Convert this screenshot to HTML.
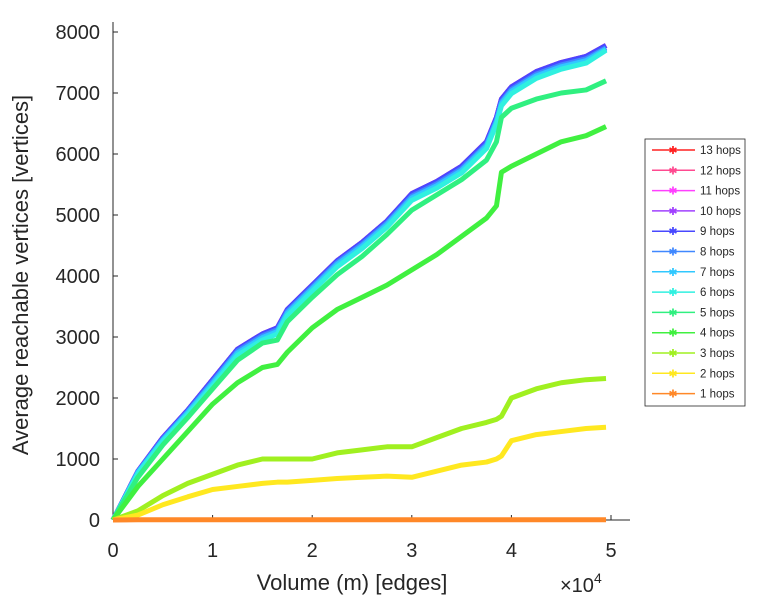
<!DOCTYPE html>
<html><head><meta charset="utf-8"><style>
body{margin:0;background:#fff;font-family:"Liberation Sans",sans-serif}
svg text{font-family:"Liberation Sans",sans-serif;fill:#262626}
</style></head><body>
<svg id="chart" width="768" height="600">
<g id="axes"></g><g id="series"></g><g id="legend"></g>
<text x="28" y="275" font-size="22" text-anchor="middle" transform="rotate(-90 28 275)">Average reachable vertices [vertices]</text>
<text x="352" y="590" font-size="22" text-anchor="middle">Volume (m) [edges]</text>
<text x="560" y="592" font-size="20">×10<tspan dy="-9" font-size="14">4</tspan></text>
</svg>
<script>
const xs=[0,0.25,0.5,0.75,1,1.25,1.5,1.65,1.75,2,2.25,2.5,2.75,3,3.25,3.5,3.75,3.85,3.9,4,4.25,4.5,4.75,4.95];
const h9=[0,800,1350,1800,2300,2800,3050,3150,3450,3850,4250,4550,4900,5350,5550,5800,6200,6600,6900,7100,7350,7500,7600,7780];
const h8=[0,790,1330,1780,2270,2770,3020,3120,3420,3820,4220,4520,4870,5310,5510,5760,6160,6560,6860,7060,7310,7460,7560,7740];
const h7=[0,780,1310,1760,2240,2740,2990,3090,3390,3790,4190,4490,4840,5280,5480,5730,6130,6530,6830,7030,7280,7430,7530,7720];
const h6=[0,760,1290,1730,2200,2700,2950,3050,3350,3750,4150,4450,4800,5240,5440,5690,6090,6490,6790,6990,7240,7390,7490,7700];
const h5=[0,700,1230,1680,2150,2620,2900,2950,3250,3650,4020,4320,4680,5080,5330,5580,5900,6200,6600,6750,6900,7000,7050,7200];
const h4=[0,550,1000,1450,1900,2250,2500,2550,2750,3150,3450,3650,3850,4100,4350,4650,4950,5150,5700,5800,6000,6200,6300,6450];
const h3=[0,150,400,600,750,900,1000,1000,1000,1000,1100,1150,1200,1200,1350,1500,1600,1650,1700,2000,2150,2250,2300,2320];
const h2=[0,80,250,380,500,550,600,620,620,650,680,700,720,700,800,900,950,1000,1050,1300,1400,1450,1500,1520];
const h1=[0,5,5,5,5,5,5,5,5,5,5,5,5,5,5,5,5,5,5,5,5,5,5,5];
const labels=["13 hops","12 hops","11 hops","10 hops","9 hops","8 hops","7 hops","6 hops","5 hops","4 hops","3 hops","2 hops","1 hops"];
const colors=["#ff2020","#ff4a90","#ff40ff","#a040ff","#4848ff","#4088ff","#30c8ff","#30f0e0","#30f080","#40f040","#a0f020","#ffe820","#ff8828"];
const seriesData=[h9,h9,h9,h9,h9,h8,h7,h6,h5,h4,h3,h2,h1];
const xTicks=[0,1,2,3,4,5];
const yTicks=[0,1000,2000,3000,4000,5000,6000,7000,8000];
const X=v=>113+v*99.6, Y=v=>520-v*0.061;
const NS="http://www.w3.org/2000/svg";
function mk(t,a,p){const e=document.createElementNS(NS,t);for(const k in a)e.setAttribute(k,a[k]);p.appendChild(e);return e;}
const ax=document.getElementById('axes');
let l=mk('line',{x1:113,y1:22,x2:113,y2:520,stroke:'#262626'},ax);


l=mk('line',{x1:113,y1:520,x2:630,y2:520,stroke:'#262626'},ax);


xTicks.forEach(t=>{mk('line',{x1:X(t),y1:520,x2:X(t),y2:515,stroke:'#262626'},ax);
const e=mk('text',{x:X(t),y:557,'font-size':20,'text-anchor':'middle'},ax);e.textContent=t;

});
yTicks.forEach(t=>{mk('line',{x1:113,y1:Y(t),x2:118,y2:Y(t),stroke:'#262626'},ax);
const e=mk('text',{x:100,y:Y(t)+7,'font-size':20,'text-anchor':'end'},ax);e.textContent=t;

});
const sg=document.getElementById('series');
for(let i=0;i<seriesData.length;i++){
const d=seriesData[i];
const pl=mk('polyline',{points:d.map((v,j)=>X(xs[j])+','+Y(v)).join(' '),fill:'none',stroke:colors[i],'stroke-width':5,'stroke-linejoin':'round'},sg);


}
const lg=document.getElementById('legend');
const box=mk('rect',{x:645,y:139,width:100,height:267,fill:'#fff',stroke:'#262626','stroke-width':0.8},lg);


labels.forEach((lab,i)=>{const y=150+i*20.3;
mk('line',{x1:652,y1:y,x2:695,y2:y,stroke:colors[i],'stroke-width':1.5},lg);
mk('text',{x:673,y:y+4,'font-size':11,'text-anchor':'middle',fill:colors[i],style:'fill:'+colors[i]},lg).textContent='✱';
const t=mk('text',{x:700,y:y+4,'font-size':11.5},lg);t.textContent=lab;

});
</script>
</body></html>
